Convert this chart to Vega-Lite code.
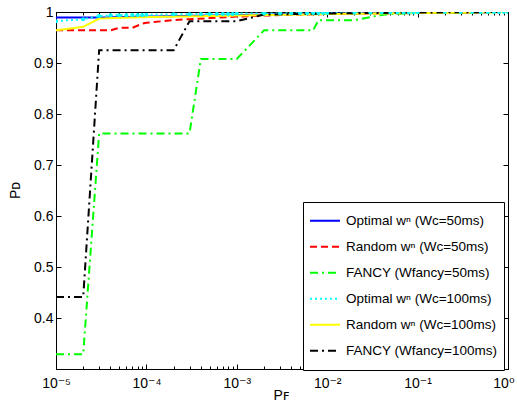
{
 "$schema": "https://vega.github.io/schema/vega-lite/v6.json",
 "width": 452, "height": 357,
 "autosize": {"type": "none"},
 "padding": {"left": 56, "top": 12, "right": 9, "bottom": 39},
 "background": "white",
 "config": {
  "view": {"stroke": "black", "strokeWidth": 1},
  "font": "Liberation Sans, DejaVu Sans",
  "axis": {"grid": false, "domainColor": "black", "tickColor": "black", "labelColor": "black", "labelFont": "Liberation Sans, DejaVu Sans", "labelFontSize": 14, "titleFont": "Liberation Sans, DejaVu Sans", "titleFontSize": 14, "titleFontWeight": "normal", "titleColor": "black"},
  "legend": {"orient": "none", "legendX": 247, "legendY": 190, "strokeColor": "black", "fillColor": "white", "padding": 6, "symbolType": "stroke", "symbolSize": 900, "symbolStrokeWidth": 2, "labelFontSize": 13.5, "labelFont": "Liberation Sans, DejaVu Sans", "labelColor": "black", "labelLimit": 300, "labelOffset": 5, "clipHeight": 25.5, "rowPadding": 0}
 },
 "datasets": {
  "d": [
   {"s":"Optimal wⁿ (Wc=50ms)","x":1e-5,"y":0.989},{"s":"Optimal wⁿ (Wc=50ms)","x":3e-5,"y":0.989},{"s":"Optimal wⁿ (Wc=50ms)","x":1e-4,"y":0.991},{"s":"Optimal wⁿ (Wc=50ms)","x":1e-3,"y":0.994},{"s":"Optimal wⁿ (Wc=50ms)","x":1e-2,"y":0.997},{"s":"Optimal wⁿ (Wc=50ms)","x":1e-1,"y":0.999},{"s":"Optimal wⁿ (Wc=50ms)","x":1,"y":1},
   {"s":"Random wⁿ (Wc=50ms)","x":1e-5,"y":0.964},{"s":"Random wⁿ (Wc=50ms)","x":4e-5,"y":0.964},{"s":"Random wⁿ (Wc=50ms)","x":5e-5,"y":0.969},{"s":"Random wⁿ (Wc=50ms)","x":7e-5,"y":0.969},{"s":"Random wⁿ (Wc=50ms)","x":9e-5,"y":0.977},{"s":"Random wⁿ (Wc=50ms)","x":1e-4,"y":0.979},{"s":"Random wⁿ (Wc=50ms)","x":2e-4,"y":0.984},{"s":"Random wⁿ (Wc=50ms)","x":3e-4,"y":0.986},{"s":"Random wⁿ (Wc=50ms)","x":5e-4,"y":0.988},{"s":"Random wⁿ (Wc=50ms)","x":8e-4,"y":0.99},{"s":"Random wⁿ (Wc=50ms)","x":1e-3,"y":0.991},{"s":"Random wⁿ (Wc=50ms)","x":2e-3,"y":0.993},{"s":"Random wⁿ (Wc=50ms)","x":5e-3,"y":0.995},{"s":"Random wⁿ (Wc=50ms)","x":1e-2,"y":0.996},{"s":"Random wⁿ (Wc=50ms)","x":1e-1,"y":0.998},{"s":"Random wⁿ (Wc=50ms)","x":1,"y":1},
   {"s":"FANCY (Wfancy=50ms)","x":1e-5,"y":0.329},{"s":"FANCY (Wfancy=50ms)","x":2e-5,"y":0.329},{"s":"FANCY (Wfancy=50ms)","x":3e-5,"y":0.762},{"s":"FANCY (Wfancy=50ms)","x":3e-4,"y":0.762},{"s":"FANCY (Wfancy=50ms)","x":4e-4,"y":0.908},{"s":"FANCY (Wfancy=50ms)","x":1e-3,"y":0.908},{"s":"FANCY (Wfancy=50ms)","x":2e-3,"y":0.964},{"s":"FANCY (Wfancy=50ms)","x":7e-3,"y":0.964},{"s":"FANCY (Wfancy=50ms)","x":8e-3,"y":0.984},{"s":"FANCY (Wfancy=50ms)","x":2e-2,"y":0.984},{"s":"FANCY (Wfancy=50ms)","x":3e-2,"y":0.99},{"s":"FANCY (Wfancy=50ms)","x":4e-2,"y":0.994},{"s":"FANCY (Wfancy=50ms)","x":5e-2,"y":0.996},{"s":"FANCY (Wfancy=50ms)","x":1e-1,"y":0.998},{"s":"FANCY (Wfancy=50ms)","x":1,"y":1},
   {"s":"Optimal wⁿ (Wc=100ms)","x":1e-5,"y":0.982},{"s":"Optimal wⁿ (Wc=100ms)","x":2e-5,"y":0.986},{"s":"Optimal wⁿ (Wc=100ms)","x":3e-5,"y":0.992},{"s":"Optimal wⁿ (Wc=100ms)","x":4e-5,"y":0.9935},{"s":"Optimal wⁿ (Wc=100ms)","x":5e-5,"y":0.9935},{"s":"Optimal wⁿ (Wc=100ms)","x":6e-5,"y":0.9935},{"s":"Optimal wⁿ (Wc=100ms)","x":7e-5,"y":0.994},{"s":"Optimal wⁿ (Wc=100ms)","x":8e-5,"y":0.994},{"s":"Optimal wⁿ (Wc=100ms)","x":9e-5,"y":0.994},
   {"s":"Optimal wⁿ (Wc=100ms)","x":1e-4,"y":0.9945},{"s":"Optimal wⁿ (Wc=100ms)","x":2e-4,"y":0.9955},{"s":"Optimal wⁿ (Wc=100ms)","x":3e-4,"y":0.9955},{"s":"Optimal wⁿ (Wc=100ms)","x":4e-4,"y":0.996},{"s":"Optimal wⁿ (Wc=100ms)","x":5e-4,"y":0.996},{"s":"Optimal wⁿ (Wc=100ms)","x":6e-4,"y":0.996},{"s":"Optimal wⁿ (Wc=100ms)","x":7e-4,"y":0.996},{"s":"Optimal wⁿ (Wc=100ms)","x":8e-4,"y":0.996},{"s":"Optimal wⁿ (Wc=100ms)","x":9e-4,"y":0.996},
   {"s":"Optimal wⁿ (Wc=100ms)","x":1e-3,"y":0.997},{"s":"Optimal wⁿ (Wc=100ms)","x":2e-3,"y":0.997},{"s":"Optimal wⁿ (Wc=100ms)","x":3e-3,"y":0.997},{"s":"Optimal wⁿ (Wc=100ms)","x":4e-3,"y":0.9975},{"s":"Optimal wⁿ (Wc=100ms)","x":5e-3,"y":0.9975},{"s":"Optimal wⁿ (Wc=100ms)","x":6e-3,"y":0.9975},{"s":"Optimal wⁿ (Wc=100ms)","x":7e-3,"y":0.998},{"s":"Optimal wⁿ (Wc=100ms)","x":8e-3,"y":0.998},{"s":"Optimal wⁿ (Wc=100ms)","x":9e-3,"y":0.998},
   {"s":"Optimal wⁿ (Wc=100ms)","x":1e-2,"y":0.998},{"s":"Optimal wⁿ (Wc=100ms)","x":2e-2,"y":0.9985},{"s":"Optimal wⁿ (Wc=100ms)","x":3e-2,"y":0.9985},{"s":"Optimal wⁿ (Wc=100ms)","x":4e-2,"y":0.999},{"s":"Optimal wⁿ (Wc=100ms)","x":5e-2,"y":0.999},{"s":"Optimal wⁿ (Wc=100ms)","x":6e-2,"y":0.999},{"s":"Optimal wⁿ (Wc=100ms)","x":7e-2,"y":0.999},{"s":"Optimal wⁿ (Wc=100ms)","x":8e-2,"y":0.999},{"s":"Optimal wⁿ (Wc=100ms)","x":9e-2,"y":0.999},
   {"s":"Optimal wⁿ (Wc=100ms)","x":0.1,"y":0.9995},{"s":"Optimal wⁿ (Wc=100ms)","x":0.2,"y":1},{"s":"Optimal wⁿ (Wc=100ms)","x":0.3,"y":1},{"s":"Optimal wⁿ (Wc=100ms)","x":0.4,"y":1},{"s":"Optimal wⁿ (Wc=100ms)","x":0.5,"y":1},{"s":"Optimal wⁿ (Wc=100ms)","x":0.6,"y":1},{"s":"Optimal wⁿ (Wc=100ms)","x":0.7,"y":1},{"s":"Optimal wⁿ (Wc=100ms)","x":0.8,"y":1},{"s":"Optimal wⁿ (Wc=100ms)","x":0.9,"y":1},{"s":"Optimal wⁿ (Wc=100ms)","x":1,"y":1},
   {"s":"Random wⁿ (Wc=100ms)","x":1e-5,"y":0.964},{"s":"Random wⁿ (Wc=100ms)","x":2e-5,"y":0.971},{"s":"Random wⁿ (Wc=100ms)","x":3e-5,"y":0.987},{"s":"Random wⁿ (Wc=100ms)","x":4e-5,"y":0.988},{"s":"Random wⁿ (Wc=100ms)","x":1e-4,"y":0.99},{"s":"Random wⁿ (Wc=100ms)","x":1e-3,"y":0.993},{"s":"Random wⁿ (Wc=100ms)","x":1e-2,"y":0.996},{"s":"Random wⁿ (Wc=100ms)","x":1e-1,"y":0.998},{"s":"Random wⁿ (Wc=100ms)","x":1,"y":1},
   {"s":"FANCY (Wfancy=100ms)","x":1e-5,"y":0.441},{"s":"FANCY (Wfancy=100ms)","x":2e-5,"y":0.441},{"s":"FANCY (Wfancy=100ms)","x":3e-5,"y":0.925},{"s":"FANCY (Wfancy=100ms)","x":2e-4,"y":0.925},{"s":"FANCY (Wfancy=100ms)","x":3e-4,"y":0.982},{"s":"FANCY (Wfancy=100ms)","x":1e-3,"y":0.982},{"s":"FANCY (Wfancy=100ms)","x":2e-3,"y":0.995},{"s":"FANCY (Wfancy=100ms)","x":1e-2,"y":0.997},{"s":"FANCY (Wfancy=100ms)","x":1e-1,"y":0.999},{"s":"FANCY (Wfancy=100ms)","x":1,"y":1}
  ]
 },
 "data": {"name": "d"},
 "layer": [
  {
   "mark": {"type": "line", "strokeWidth": 2, "clip": true},
   "encoding": {
    "x": {"field": "x", "type": "quantitative", "scale": {"type": "log", "domain": [1e-5, 1], "nice": false},
     "axis": {"orient": "bottom", "title": "Pꜰ", "titleX": 225, "titleY": 26, "titleBaseline": "middle", "titleAlign": "center",
      "values": [1e-5,2e-5,3e-5,4e-5,5e-5,6e-5,7e-5,8e-5,9e-5,1e-4,2e-4,3e-4,4e-4,5e-4,6e-4,7e-4,8e-4,9e-4,1e-3,2e-3,3e-3,4e-3,5e-3,6e-3,7e-3,8e-3,9e-3,1e-2,2e-2,3e-2,4e-2,5e-2,6e-2,7e-2,8e-2,9e-2,0.1,0.2,0.3,0.4,0.5,0.6,0.7,0.8,0.9,1],
      "labelExpr": "datum.value == 0.00001 ? '10⁻⁵' : datum.value == 0.0001 ? '10⁻⁴' : datum.value == 0.001 ? '10⁻³' : datum.value == 0.01 ? '10⁻²' : datum.value == 0.1 ? '10⁻¹' : datum.value == 1 ? '10⁰' : ''",
      "labelAlign": {"condition": {"test": "datum.value == 1", "value": "right"}, "value": "center"},
      "labelOffset": {"condition": {"test": "datum.value == 1", "value": 6}, "value": 0},
      "tickSize": {"condition": {"test": "indexof([0.00001,0.0001,0.001,0.01,0.1,1], datum.value) >= 0", "value": -5}, "value": -3},
      "labelPadding": 12, "labelFlush": false, "labelOverlap": false, "labelBound": false}},
    "y": {"field": "y", "type": "quantitative", "scale": {"domain": [0.3, 1], "nice": false, "zero": false},
     "axis": {"orient": "left", "title": "Pᴅ", "titleX": -41, "titleY": 178, "titleAngle": -90, "titleBaseline": "middle", "titleAlign": "center",
      "values": [0.4,0.5,0.6,0.7,0.8,0.9,1], "labelExpr": "datum.value == 1 ? '1' : format(datum.value, '.1f')", "tickSize": -5, "labelPadding": 8}},
    "color": {"field": "s", "type": "nominal", "sort": null,
     "scale": {"domain": ["Optimal wⁿ (Wc=50ms)","Random wⁿ (Wc=50ms)","FANCY (Wfancy=50ms)","Optimal wⁿ (Wc=100ms)","Random wⁿ (Wc=100ms)","FANCY (Wfancy=100ms)"],
      "range": ["#0000ff","#ff0000","#00ff00","#00ffff","#ffff00","#000000"]},
     "legend": {"title": null, "orient": "none", "legendX": 247, "legendY": 190}},
    "strokeDash": {"field": "s", "type": "nominal", "sort": null,
     "scale": {"domain": ["Optimal wⁿ (Wc=50ms)","Random wⁿ (Wc=50ms)","FANCY (Wfancy=50ms)","Optimal wⁿ (Wc=100ms)","Random wⁿ (Wc=100ms)","FANCY (Wfancy=100ms)"],
      "range": [[1,0],[7,4],[8,4,2,4],[2,3],[1,0],[8,4,2,4]]},
     "legend": {"title": null, "orient": "none", "legendX": 247, "legendY": 190}}
   }
  },
  {
   "transform": [{"filter": "datum.s == 'Optimal wⁿ (Wc=100ms)'"}],
   "mark": {"type": "circle", "size": 16, "opacity": 1, "color": "#00ffff", "clip": true},
   "encoding": {
    "x": {"field": "x", "type": "quantitative", "scale": {"type": "log", "domain": [1e-5, 1], "nice": false},
     "axis": {"orient": "top", "title": null, "labels": false,
      "values": [1e-5,2e-5,3e-5,4e-5,5e-5,6e-5,7e-5,8e-5,9e-5,1e-4,2e-4,3e-4,4e-4,5e-4,6e-4,7e-4,8e-4,9e-4,1e-3,2e-3,3e-3,4e-3,5e-3,6e-3,7e-3,8e-3,9e-3,1e-2,2e-2,3e-2,4e-2,5e-2,6e-2,7e-2,8e-2,9e-2,0.1,0.2,0.3,0.4,0.5,0.6,0.7,0.8,0.9,1],
      "tickSize": {"condition": {"test": "indexof([0.00001,0.0001,0.001,0.01,0.1,1], datum.value) >= 0", "value": -5}, "value": -3}}},
    "y": {"field": "y", "type": "quantitative", "scale": {"domain": [0.3, 1], "nice": false, "zero": false},
     "axis": {"orient": "right", "title": null, "labels": false, "values": [0.4,0.5,0.6,0.7,0.8,0.9,1], "tickSize": -5}}
   }
  }
 ],
 "resolve": {"axis": {"x": "independent", "y": "independent"}}
}
